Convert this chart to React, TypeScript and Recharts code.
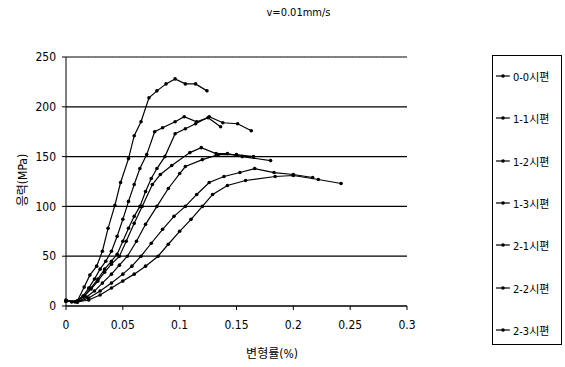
import { LineChart, Line, XAxis, YAxis, CartesianGrid, Legend, ReferenceLine } from 'recharts'

const seriesNames = ['0-0시편', '1-1시편', '1-2시편', '1-3시편', '2-1시편', '2-2시편', '2-3시편']
const xTicks = [0, 0.05, 0.1, 0.15, 0.2, 0.25, 0.3]
const xTickLabels = ['0', '0.05', '0.1', '0.15', '0.2', '0.25', '0.3']
const yTicks = [0, 50, 100, 150, 200, 250]

const strain00 = [0, 0.005, 0.01, 0.016, 0.021, 0.027, 0.032, 0.037, 0.043, 0.048, 0.055, 0.06, 0.066, 0.073, 0.08, 0.088, 0.096, 0.105, 0.114, 0.124]
const stress00 = [6, 4, 5, 19, 31, 40, 55, 78, 101, 124, 148, 171, 185, 209, 216, 223, 228, 223, 223, 216]

const strain11 = [0, 0.008, 0.015, 0.02, 0.025, 0.03, 0.035, 0.04, 0.045, 0.05, 0.055, 0.06, 0.065, 0.071, 0.078, 0.085, 0.096, 0.104, 0.115, 0.125, 0.136]
const stress11 = [5, 4, 10, 18, 27, 37, 45, 55, 70, 87, 105, 122, 138, 152, 175, 179, 185, 190, 185, 189, 180]

const strain12 = [0, 0.01, 0.016, 0.022, 0.028, 0.034, 0.04, 0.045, 0.05, 0.055, 0.06, 0.065, 0.07, 0.075, 0.08, 0.087, 0.096, 0.105, 0.114, 0.126, 0.138, 0.151, 0.163]
const stress12 = [5, 5, 10, 18, 27, 37, 45, 52, 65, 78, 90, 100, 115, 128, 138, 150, 173, 178, 183, 190, 184, 183, 176]

const strain13 = [0, 0.01, 0.016, 0.022, 0.028, 0.034, 0.04, 0.047, 0.053, 0.06, 0.067, 0.076, 0.083, 0.093, 0.109, 0.119, 0.132, 0.142, 0.155, 0.18]
const stress13 = [5, 5, 10, 17, 25, 34, 42, 50, 65, 83, 100, 122, 132, 141, 154, 159, 153, 153, 150, 146]

const strain21 = [0, 0.01, 0.018, 0.025, 0.032, 0.04, 0.047, 0.054, 0.062, 0.07, 0.08, 0.09, 0.1, 0.105, 0.12, 0.134, 0.15, 0.165]
const stress21 = [5, 4, 9, 15, 23, 32, 41, 50, 65, 82, 100, 118, 133, 140, 147, 152, 152, 150]

const strain22 = [0, 0.01, 0.02, 0.03, 0.04, 0.05, 0.058, 0.066, 0.075, 0.085, 0.095, 0.105, 0.115, 0.126, 0.139, 0.153, 0.166, 0.183, 0.2, 0.217]
const stress22 = [5, 4, 8, 15, 23, 32, 40, 50, 63, 77, 90, 100, 112, 124, 130, 134, 138, 134, 132, 129]

const strain23 = [0, 0.01, 0.02, 0.03, 0.04, 0.05, 0.06, 0.07, 0.081, 0.09, 0.1, 0.11, 0.12, 0.129, 0.142, 0.158, 0.184, 0.2, 0.222, 0.242]
const stress23 = [5, 4, 6, 11, 18, 25, 32, 40, 50, 62, 75, 87, 100, 112, 121, 126, 130, 131, 127, 123]

const strains = [strain00, strain11, strain12, strain13, strain21, strain22, strain23]
const stresses = [stress00, stress11, stress12, stress13, stress21, stress22, stress23]

const series = seriesNames.map((name, i) => ({
  name,
  data: strains[i].map((x, j) => ({ x, y: stresses[i][j] })),
}))

const font = '"DejaVu Sans", "Noto Sans CJK KR", sans-serif'
const narrow = { fontFamily: font, fontStretch: 'condensed' as const }

function LegendBox() {
  return (
    <div
      style={{
        width: 70,
        height: 290,
        border: '1px solid #000',
        ...narrow,
        fontSize: 11,
        color: '#000',
        boxSizing: 'border-box',
        position: 'relative',
      }}
    >
      {seriesNames.map((name, i) => (
        <div
          key={name}
          style={{ position: 'absolute', left: 2, top: 12 + i * 42.3, display: 'flex', alignItems: 'center', whiteSpace: 'nowrap' }}
        >
          <svg width={16} height={8}>
            <line x1={1} y1={4} x2={15} y2={4} stroke="#000" strokeWidth={1.2} />
            <circle cx={8} cy={4} r={1.8} fill="#000" />
          </svg>
          <span style={{ marginLeft: 2 }}>{name}</span>
        </div>
      ))}
    </div>
  )
}

export default function App() {
  return (
    <div style={{ position: 'absolute', left: 0, top: 0, width: 565, height: 367, background: '#fff', ...narrow }}>
      <div style={{ position: 'absolute', left: 0, width: 565, top: 6, textAlign: 'center', fontSize: 11, paddingLeft: 16 }}>
        v=0.01mm/s
      </div>
      <div style={{ position: 'absolute', left: 21, top: 180, transform: 'translate(-50%, -50%) rotate(-90deg)', fontSize: 12, whiteSpace: 'nowrap' }}>
        응력(MPa)
      </div>
      <div style={{ position: 'absolute', left: 272, top: 352, transform: 'translate(-50%, -50%)', fontSize: 12, whiteSpace: 'nowrap' }}>
        변형률(%)
      </div>
      <LineChart width={565} height={367} margin={{ top: 57, right: 88, bottom: 31, left: 26 }} style={narrow}>
        <CartesianGrid horizontal vertical={false} stroke="#000" strokeWidth={1.2} />
        <ReferenceLine y={250} stroke="#999" strokeDasharray="1 2" />
        <XAxis
          type="number"
          dataKey="x"
          domain={[0, 0.3]}
          ticks={xTicks}
          tickFormatter={(v) => xTickLabels[xTicks.indexOf(v)] ?? String(v)}
          stroke="#000"
          tickSize={4}
          tickMargin={10}
          height={30}
          tick={{ fill: '#000', fontSize: 12, style: narrow }}
          allowDuplicatedCategory={false}
        />
        <YAxis
          type="number"
          domain={[0, 250]}
          ticks={yTicks}
          stroke="#000"
          tickSize={4}
          tickMargin={6}
          width={40}
          tick={{ fill: '#000', fontSize: 12, style: narrow }}
        />
        <Legend
          layout="vertical"
          align="right"
          verticalAlign="top"
          wrapperStyle={{ left: 492, top: 55, width: 70 }}
          content={() => <LegendBox />}
        />
        {series.map((s) => (
          <Line
            key={s.name}
            data={s.data}
            dataKey="y"
            name={s.name}
            type="linear"
            stroke="#000"
            strokeWidth={1.2}
            dot={{ r: 1.8, fill: '#000', stroke: '#000', strokeWidth: 0 }}
            isAnimationActive={false}
          />
        ))}
      </LineChart>
    </div>
  )
}
